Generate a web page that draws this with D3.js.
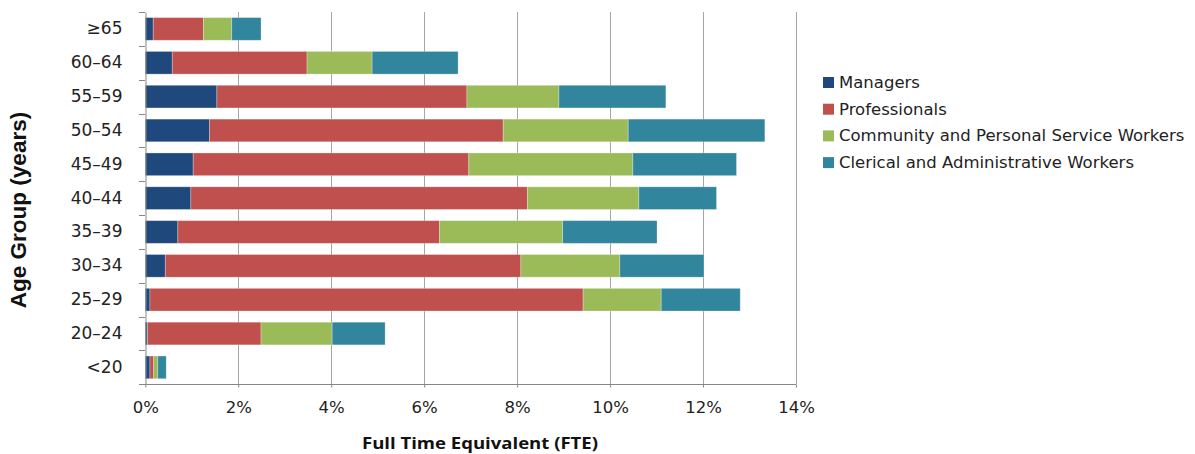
<!DOCTYPE html>
<html>
<head>
<meta charset="utf-8">
<script src="https://cdn.jsdelivr.net/npm/d3@7"></script>
<style>
  html, body { margin: 0; padding: 0; background: #fff; }
  svg { display: block; font-family: "DejaVu Sans", "Open Sans", sans-serif; }
</style>
</head>
<body>
<svg id="chart" width="1195" height="454"></svg>
<script>
// Age groups, listed top to bottom
const ageGroups = ["≥65", "60–64", "55–59", "50–54", "45–49", "40–44", "35–39", "30–34", "25–29", "20–24", "<20"];

// Share of total FTE (%) per occupation group, same order as ageGroups
const managers      = [0.17, 0.58, 1.54, 1.38, 1.03, 0.98, 0.70, 0.43, 0.10, 0.05, 0.10];
const professionals = [1.08, 2.90, 5.38, 6.32, 5.93, 7.24, 5.63, 7.65, 9.32, 2.44, 0.08];
const community     = [0.61, 1.40, 1.98, 2.69, 3.53, 2.40, 2.65, 2.13, 1.68, 1.53, 0.09];
const clerical      = [0.63, 1.85, 2.30, 2.94, 2.23, 1.67, 2.03, 1.81, 1.70, 1.14, 0.18];

const seriesNames  = ["Managers", "Professionals", "Community and Personal Service Workers", "Clerical and Administrative Workers"];
const seriesColors = ["#1F497D", "#C0504D", "#9BBB59", "#31859C"];
const xTicks = [0, 2, 4, 6, 8, 10, 12, 14];

const rows = ageGroups.map((g, i) => ({
  group: g,
  [seriesNames[0]]: managers[i],
  [seriesNames[1]]: professionals[i],
  [seriesNames[2]]: community[i],
  [seriesNames[3]]: clerical[i]
}));

const svg = d3.select("#chart");
const plot = { left: 145.3, right: 796, top: 12, bottom: 384.3 };

const x = d3.scaleLinear().domain([0, 14]).range([plot.left, plot.right]);
const y = d3.scaleBand().domain(ageGroups).range([plot.top, plot.bottom]).paddingInner(0.33).paddingOuter(0.165);

// Vertical gridlines
svg.append("g")
  .selectAll("line")
  .data(xTicks.filter(t => t > 0))
  .join("line")
  .attr("x1", d => Math.round(x(d)) + 0.5)
  .attr("x2", d => Math.round(x(d)) + 0.5)
  .attr("y1", plot.top)
  .attr("y2", plot.bottom)
  .attr("stroke", "#A6A6A6")
  .attr("stroke-width", 1);

// Stacked bars
const stack = d3.stack().keys(seriesNames);
const layers = stack(rows);

svg.append("g")
  .selectAll("g")
  .data(layers)
  .join("g")
  .attr("fill", (d, i) => seriesColors[i])
  .selectAll("rect")
  .data(d => d)
  .join("rect")
  .attr("x", d => x(d[0]))
  .attr("y", d => y(d.data.group))
  .attr("width", d => x(d[1]) - x(d[0]))
  .attr("height", y.bandwidth())
  .attr("stroke", "rgba(255,255,255,0.35)")
  .attr("stroke-width", 0.8);

// Category axis
const yAxis = svg.append("g")
  .attr("transform", `translate(${Math.round(plot.left) + 0.5},0)`)
  .call(d3.axisLeft(y).tickSize(0).tickPadding(23));
yAxis.select(".domain").attr("stroke", "#868686");
yAxis.selectAll("text")
  .attr("font-size", 17)
  .attr("fill", "#222")
  .attr("font-family", "'DejaVu Sans', sans-serif");

// Tick marks between categories
const bandEdges = d3.range(ageGroups.length + 1).map(i => plot.top + i * y.step());
svg.append("g")
  .selectAll("line")
  .data(bandEdges)
  .join("line")
  .attr("x1", Math.round(plot.left) - 6)
  .attr("x2", Math.round(plot.left))
  .attr("y1", d => Math.round(d) + 0.5)
  .attr("y2", d => Math.round(d) + 0.5)
  .attr("stroke", "#868686");

// Value axis
const xAxis = svg.append("g")
  .attr("transform", `translate(0,${Math.round(plot.bottom) + 0.5})`)
  .call(d3.axisBottom(x).tickValues(xTicks).tickFormat(d => d + "%").tickSize(3).tickPadding(14));
xAxis.select(".domain").attr("stroke", "#868686").attr("d", `M${Math.round(plot.left) - 6},0H${plot.right}`);
xAxis.selectAll(".tick line").attr("stroke", "#868686");
xAxis.selectAll("text")
  .attr("font-size", 16.5)
  .attr("fill", "#222")
  .attr("font-family", "'DejaVu Sans', sans-serif");

// Axis titles
svg.append("text")
  .attr("x", 480)
  .attr("y", 449)
  .attr("text-anchor", "middle")
  .attr("font-size", 16.5)
  .attr("font-weight", "bold")
  .attr("font-family", "'Open Sans', sans-serif")
  .attr("textLength", 236)
  .attr("lengthAdjust", "spacingAndGlyphs")
  .attr("fill", "#111")
  .text("Full Time Equivalent (FTE)");

svg.append("text")
  .attr("transform", "translate(26,210) rotate(-90)")
  .attr("text-anchor", "middle")
  .attr("font-size", 22.5)
  .attr("font-weight", "bold")
  .attr("font-family", "'Liberation Sans', Arial, sans-serif")
  .attr("fill", "#111")
  .text("Age Group (years)");

// Legend
const legend = svg.append("g").attr("transform", "translate(823,82)");
const items = legend.selectAll("g")
  .data(seriesNames)
  .join("g")
  .attr("transform", (d, i) => `translate(0,${i * 26.7})`);
items.append("rect")
  .attr("x", 0)
  .attr("y", -5)
  .attr("width", 11)
  .attr("height", 11)
  .attr("fill", (d, i) => seriesColors[i]);
items.append("text")
  .attr("x", 16)
  .attr("y", 0)
  .attr("dy", "0.36em")
  .attr("font-size", 16.5)
  .attr("fill", "#222")
  .text(d => d);
</script>
</body>
</html>
